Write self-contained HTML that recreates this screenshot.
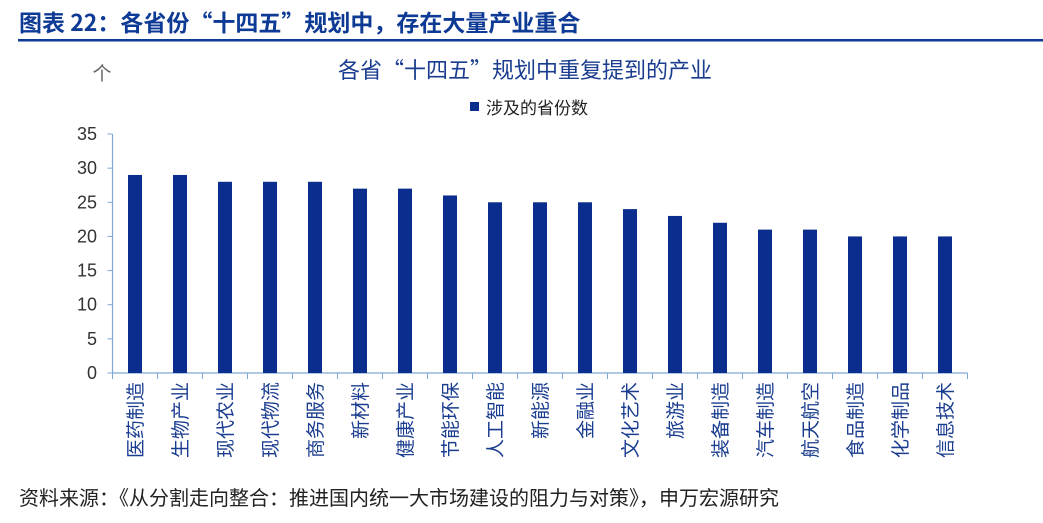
<!DOCTYPE html>
<html><head><meta charset="utf-8"><style>
body{margin:0;background:#fff;width:1043px;height:518px;overflow:hidden;font-family:"Noto Sans CJK SC","Liberation Sans",sans-serif}
</style></head><body>
<svg width="1043" height="518" xmlns="http://www.w3.org/2000/svg" font-family="Noto Sans CJK SC, Liberation Sans, sans-serif">
<text x="19" y="31" font-size="23" font-weight="bold" fill="#0d3a94">图表 22：各省份“十四五”规划中，存在大量产业重合</text>
<rect x="18" y="39" width="1025" height="2.5" fill="#0d3a94"/>
<text x="102" y="80" font-size="19" fill="#666" text-anchor="middle">个</text>
<text x="525" y="78" font-size="22" fill="#1a3d8f" text-anchor="middle">各省“十四五”规划中重复提到的产业</text>
<rect x="470" y="102" width="9" height="9" fill="#0a2d8e"/>
<text x="486" y="114" font-size="17" fill="#222">涉及的省份数</text>
<g id="chart"></g>
<text x="19" y="505" font-size="20" fill="#222">资料来源：《从分割走向整合：推进国内统一大市场建设的阻力与对策》，申万宏源研究</text>
</svg>
<script>
const categories=["医药制造","生物产业","现代农业","现代物流","商务服务","新材料","健康产业","节能环保","人工智能","新能源","金融业","文化艺术","旅游业","装备制造","汽车制造","航天航空","食品制造","化学制品","信息技术"];
const values=[29,29,28,28,28,27,27,26,25,25,25,24,23,22,21,21,20,20,20];
const yTicks=[0,5,10,15,20,25,30,35];
const ns="http://www.w3.org/2000/svg";
const g=document.getElementById('chart');
const x0=112.5,step=45,y0=373,yTop=134,yMax=35;
const y=v=>y0-(v/yMax)*(y0-yTop);
const xc=i=>x0+step*(i+0.5);
function mk(t,a){const e=document.createElementNS(ns,t);for(const k in a)e.setAttribute(k,a[k]);g.appendChild(e);return e;}
const axisColor="#7fa7d8";
let ax=mk('line',{x1:x0,y1:yTop,x2:x0,y2:y0,stroke:axisColor,'stroke-width':1.2});


let bx=mk('line',{x1:x0,y1:y0,x2:x0+step*categories.length,y2:y0,stroke:axisColor,'stroke-width':1.2});


yTicks.forEach(t=>{
  const tk=mk('line',{x1:x0-5,y1:y(t),x2:x0,y2:y(t),stroke:axisColor});
  
  
  const l=mk('text',{x:97,y:y(t)+6,'font-size':18,fill:'#333','text-anchor':'end','font-family':'Liberation Sans, sans-serif'});
  l.textContent=t;
  
  
});
for(let i=0;i<=categories.length;i++){
  const tk=mk('line',{x1:x0+step*i,y1:y0,x2:x0+step*i,y2:y0+6,stroke:axisColor});
  
  
}
categories.forEach((c,i)=>{
  const b=mk('rect',{x:xc(i)-7,y:y(values[i]),width:14,height:y0-y(values[i]),fill:'#0a2d8e'});
  
  
  const cx=xc(i)+7;
  const l=mk('text',{x:cx,y:382,'font-size':19,fill:'#1a3d8f','text-anchor':'end',transform:`rotate(-90 ${cx} 382)`});
  l.textContent=c;
  
  
});
</script>
</body></html>
